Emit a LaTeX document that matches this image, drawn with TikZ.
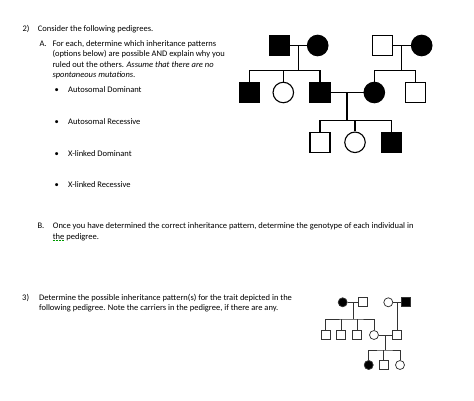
\documentclass[tikz,border=0pt]{standalone}
\usepackage{fontspec}
\setmainfont{Carlito}
\usetikzlibrary{positioning}
\usetikzlibrary{calc}

\tikzset{
  txt/.style={anchor=base west, inner sep=0pt, font=\fontsize{8.5}{10}\selectfont},
  bigmale/.style={draw, rectangle, inner sep=0pt, minimum size=20pt},
  bigfemale/.style={draw, circle, inner sep=0pt, minimum size=20.5pt},
  smallmale/.style={draw, rectangle, inner sep=0pt, minimum size=9pt},
  smallfemale/.style={draw, circle, inner sep=0pt, minimum size=9pt},
  affected/.style={fill=black}
}

\begin{document}
\begin{tikzpicture}[x=1pt,y=-1pt]
\useasboundingbox (0,0) rectangle (474,401);

% Question 2
\node[txt] (num2) at (22.3,31.3) {2)};
\node[txt] (q2) at (37.7,31.3) {Consider the following pedigrees.};
\node[txt] (partA) at (39.3,46.7) {A.};
\node[txt] (a1) at (52.3,46.7) {For each, determine which inheritance patterns};
\node[txt] (a2) at (52.3,56.9) {(options below) are possible AND explain why you};
\node[txt] (a3) at (52.3,67.1) {ruled out the others. \textit{Assume that there are no}};
\node[txt] (a4) at (52.3,77.7) {\textit{spontaneous mutations.}};

% Options
\foreach \y/\name/\opt in {93/ad/Autosomal Dominant, 124.7/ar/Autosomal Recessive,
                           156.3/xd/X-linked Dominant, 187.3/xr/X-linked Recessive}{
  \node[txt] (b\name) at (54.5,\y) {\textbullet};
  \node[txt] (\name) at (68,\y) {\opt};
}

\node[txt] (partB) at (37.3,228.7) {B.};
\node[txt] (b1) at (52.7,228.7) {Once you have determined the correct inheritance pattern, determine the genotype of each individual in};
\node[txt] (b2) at (52.7,239) {the pedigree.};
\draw[green!60!black, line width=0.5pt, densely dotted] ([yshift=-1.5pt]b2.base west) -- ++(12,0);

% Question 3
\node[txt] (num3) at (22,300.3) {3)};
\node[txt] (q3a) at (39,300.3) {Determine the possible inheritance pattern(s) for the trait depicted in the};
\node[txt] (q3b) at (39,310.5) {following pedigree. Note the carriers in the pedigree, if there are any.};

% First pedigree
\begin{scope}[line width=1.1pt]
  % generation I
  \node[bigmale, affected] (g1) at (279.5,45.5) {};
  \node[bigfemale, affected] (g2) at (317.7,45.5) {};
  \node[bigmale] (g3) at (382.3,45.5) {};
  \node[bigfemale, affected] (g4) at (421.7,45.5) {};
  % generation II
  \node[bigmale, affected] (p1) at (249.5,92.5) {};
  \node[bigfemale] (p2) at (283.3,92.5) {};
  \node[bigmale, affected] (p3) at (320,92.5) {};
  \node[bigfemale, affected] (p4) at (374.3,92.5) {};
  \node[bigmale] (p5) at (415.7,92.5) {};
  % generation III
  \node[bigmale] (c1) at (320,142.3) {};
  \node[bigfemale] (c2) at (355,142.3) {};
  \node[bigmale, affected] (c3) at (391.7,142.3) {};

  % matings and descent lines
  \draw (g1.east) -- (g2.west);
  \coordinate (m1) at ($(g1.east)!0.5!(g2.west)$);
  \draw (m1) -- ++(0,25.2) coordinate (s1);
  \draw (p1.north) |- (s1) -| (p3.north);
  \draw (p2.north) -- (p2.north |- s1);

  \draw (g3.east) -- (g4.west);
  \coordinate (m2) at ($(g3.east)!0.5!(g4.west)$);
  \draw (m2) -- ++(0,25.2) coordinate (s2);
  \draw (p4.north) |- (s2) -| (p5.north);

  \draw (p3.east) -- (p4.west);
  \coordinate (m3) at ($(p3.east)!0.5!(p4.west)$);
  \draw (m3) -- ++(0,28.2) coordinate (s3);
  \draw (c1.north) |- (s3) -| (c3.north);
  \draw (c2.north) -- (c2.north |- s3);
\end{scope}

% Second pedigree
\begin{scope}[line width=0.75pt, draw=black!80]
  \node[smallfemale, affected] (f1) at (342.7,302.3) {};
  \node[smallmale] (f2) at (363.3,302.3) {};
  \node[smallfemale] (f3) at (388.3,302.3) {};
  \node[smallmale, affected] (f4) at (405.7,302.3) {};

  \node[smallmale] (k1) at (325.7,335) {};
  \node[smallmale] (k2) at (341.3,335) {};
  \node[smallmale] (k3) at (357.3,335) {};
  \node[smallfemale] (k4) at (374,335) {};
  \node[smallmale] (k5) at (396.5,335) {};

  \node[smallfemale, affected] (r1) at (368.7,365) {};
  \node[smallmale] (r2) at (383.8,365) {};
  \node[smallfemale] (r3) at (400,365) {};

  \draw (f1.east) -- (f2.west);
  \coordinate (n1) at ($(f1.east)!0.5!(f2.west)$);
  \draw (n1) -- ++(0,16.7) coordinate (t1);
  \draw (k1.north) |- (t1) -| (k4.north);
  \foreach \kid in {k2,k3}
    \draw (\kid.north) -- (\kid.north |- t1);

  \draw (f3.east) -- (f4.west);
  \coordinate (n2) at ($(f3.east)!0.5!(f4.west)$);
  \draw (n2) -- (n2 |- k5.north);

  \draw (k4.east) -- (k5.west);
  \coordinate (n3) at ($(k4.east)!0.5!(k5.west)$);
  \draw (n3) -- ++(0,15) coordinate (t2);
  \draw (r1.north) |- (t2) -| (r3.north);
  \draw (r2.north) -- (r2.north |- t2);
\end{scope}
\end{tikzpicture}
\end{document}
